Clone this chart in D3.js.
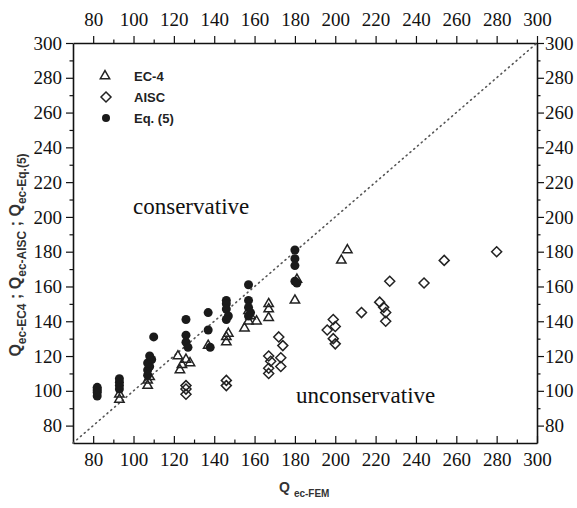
<!DOCTYPE html>
<html>
<head>
<meta charset="utf-8">
<script src="https://cdn.jsdelivr.net/npm/d3@7"></script>
<style>
  body { margin: 0; background: #fff; }
  .note { font-family: "Liberation Serif", "Times New Roman", serif; font-size: 23px; fill: #111; }
  .leg { font-family: "Liberation Sans", Arial, sans-serif; font-size: 13px; font-weight: bold; fill: #222; }
  .lab { font-family: "Liberation Sans", Arial, sans-serif; fill: #333; font-weight: bold; }
</style>
</head>
<body>
<div id="chart"></div>
<script>
// Q_ec-FEM vs predicted capacities
const ec4Points = [
  [93, 95], [93, 98],
  [107, 103], [107, 106], [108, 108],
  [123, 112], [124, 115], [126, 118], [128, 116], [122, 120],
  [137, 126],
  [146, 128], [146, 131], [147, 133],
  [155, 136], [157, 140], [158, 143], [157, 146], [161, 140],
  [167, 142], [167, 147], [167, 150],
  [180, 152], [181, 164],
  [203, 175], [206, 181]
];
const aiscPoints = [
  [126, 98], [126, 101], [126, 103],
  [146, 103], [146, 106],
  [167, 110], [167, 113], [168, 117], [167, 120],
  [173, 114], [173, 119], [174, 126], [172, 131],
  [196, 135], [200, 127], [199, 130], [200, 137], [199, 141],
  [213, 145],
  [222, 151], [224, 148], [225, 145], [225, 140],
  [227, 163], [244, 162], [254, 175], [280, 180]
];
const eq5Points = [
  [82, 97], [82, 99], [82, 100], [82, 101], [82, 102],
  [93, 101], [93, 103], [93, 105], [93, 107],
  [107, 109], [107, 112], [108, 114], [107, 116], [109, 118], [108, 120], [110, 131],
  [126, 141], [126, 132], [126, 128], [127, 125],
  [137, 145], [137, 135], [138, 125],
  [146, 152], [146, 150], [146, 147], [147, 143], [146, 141],
  [157, 161], [157, 152], [157, 148], [158, 145], [157, 143],
  [180, 181], [180, 176], [180, 172], [180, 163], [181, 162]
];
const axisTicks = [80, 100, 120, 140, 160, 180, 200, 220, 240, 260, 280, 300];
const minorTicks = d3.range(70, 301, 10);
const legendNames = ["EC-4", "AISC", "Eq. (5)"];

const W = 577, H = 508;
const x = d3.scaleLinear().domain([70, 300]).range([73, 537]);
const y = d3.scaleLinear().domain([70, 300]).range([443, 43]);

const svg = d3.select('#chart').append('svg')
  .attr('width', W).attr('height', H);

// frame axes
function frameAxis(axis, tr) {
  const g = svg.append('g').attr('transform', tr);
  g.call(axis.tickValues(minorTicks).tickFormat(d => axisTicks.includes(d) ? d : ''));
  g.attr('font-family', '"Liberation Serif", "Times New Roman", serif').attr('font-size', 19);
  g.selectAll('.tick text').attr('fill', '#111');
  g.select('.domain').attr('stroke', '#111').attr('stroke-width', 1.6);
  g.selectAll('.tick line').attr('stroke', '#111').attr('stroke-width', 1.2);
  g.selectAll('.tick').filter(d => !axisTicks.includes(d) && d !== 70)
    .select('line').each(function() {
      const l = d3.select(this);
      if (l.attr('x2') !== null && +l.attr('x2') !== 0) l.attr('x2', +l.attr('x2') / 2);
      if (l.attr('y2') !== null && +l.attr('y2') !== 0) l.attr('y2', +l.attr('y2') / 2);
    });
  g.selectAll('.tick').filter(d => d === 70).select('line').remove();
  return g;
}

frameAxis(d3.axisBottom(x).tickSizeInner(-7).tickSizeOuter(0).tickPadding(10), `translate(0,${y(70)})`);
frameAxis(d3.axisTop(x).tickSizeInner(7).tickSizeOuter(0).tickPadding(10), `translate(0,${y(300)})`);
frameAxis(d3.axisLeft(y).tickSizeInner(7).tickSizeOuter(0).tickPadding(4), `translate(${x(70)},0)`);
frameAxis(d3.axisRight(y).tickSizeInner(7).tickSizeOuter(0).tickPadding(1), `translate(${x(300)},0)`);

// 1:1 line
svg.append('line')
  .attr('x1', x(70)).attr('y1', y(70))
  .attr('x2', x(300)).attr('y2', y(300))
  .attr('stroke', '#555').attr('stroke-width', 1.6)
  .attr('stroke-dasharray', '1 4').attr('stroke-linecap', 'round');

const triPath = d3.symbol().type(d3.symbolTriangle).size(38);
const diaPath = 'M0,-5L5,0L0,5L-5,0Z';

svg.append('g').selectAll('path').data(aiscPoints).enter().append('path')
  .attr('d', diaPath)
  .attr('transform', d => `translate(${x(d[0])},${y(d[1])})`)
  .attr('fill', 'none').attr('stroke', '#222').attr('stroke-width', 1.5);

svg.append('g').selectAll('path').data(ec4Points).enter().append('path')
  .attr('d', triPath)
  .attr('transform', d => `translate(${x(d[0])},${y(d[1])})`)
  .attr('fill', 'none').attr('stroke', '#222').attr('stroke-width', 1.5);

svg.append('g').selectAll('circle').data(eq5Points).enter().append('circle')
  .attr('cx', d => x(d[0])).attr('cy', d => y(d[1])).attr('r', 4.5)
  .attr('fill', '#1a1a1a');

// legend
const leg = svg.append('g');
const legY = [76, 97, 118];
leg.append('path').attr('d', triPath).attr('transform', `translate(105,${legY[0]})`)
  .attr('fill', 'none').attr('stroke', '#222').attr('stroke-width', 1.5);
leg.append('path').attr('d', diaPath).attr('transform', `translate(106,${legY[1]})`)
  .attr('fill', 'none').attr('stroke', '#222').attr('stroke-width', 1.5);
leg.append('circle').attr('cx', 106).attr('cy', legY[2]).attr('r', 4).attr('fill', '#1a1a1a');
leg.selectAll('text').data(legendNames).enter().append('text')
  .attr('class', 'leg')
  .attr('x', 134).attr('y', (d, i) => legY[i] + 5)
  .text(d => d);

// region notes
svg.append('text').attr('class', 'note').attr('x', 133).attr('y', 214).text('conservative');
svg.append('text').attr('class', 'note').attr('x', 296).attr('y', 403).text('unconservative');

// axis labels
const xl = svg.append('text').attr('class', 'lab').attr('x', 279).attr('y', 492).attr('font-size', 14);
xl.append('tspan').text('Q');
xl.append('tspan').attr('dy', 5).attr('dx', 4).attr('font-size', 10).text('ec-FEM');

const yl = svg.append('text').attr('class', 'lab')
  .attr('transform', 'translate(21,255) rotate(-90)')
  .attr('text-anchor', 'middle').attr('font-size', 16);
yl.append('tspan').text('Q');
yl.append('tspan').attr('dy', 5).attr('font-size', 12).text('ec-EC4');
yl.append('tspan').attr('dy', -5).text(' ; Q');
yl.append('tspan').attr('dy', 5).attr('font-size', 12).text('ec-AISC');
yl.append('tspan').attr('dy', -5).text(' ; Q');
yl.append('tspan').attr('dy', 5).attr('font-size', 12).text('ec-Eq.(5)');
</script>
</body>
</html>
